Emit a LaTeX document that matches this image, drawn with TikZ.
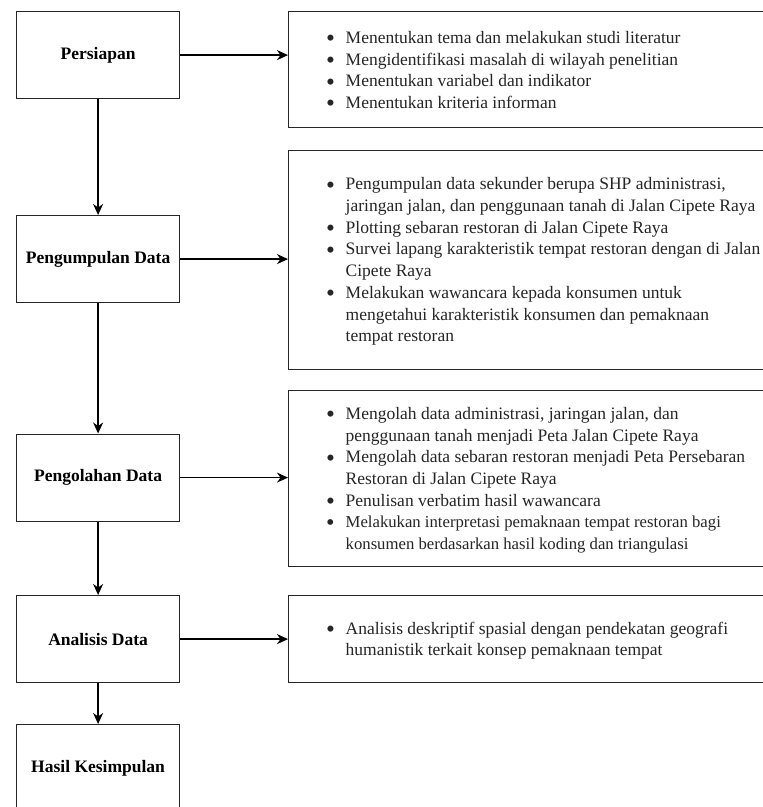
\documentclass[tikz,border=0pt]{standalone}
\usepackage{fontspec}
\usepackage{graphicx}
\setmainfont{Liberation Serif}
\usetikzlibrary{arrows.meta}
\newcommand{\bul}[1]{\par\noindent\hangindent=18.5pt\hangafter=1\makebox[18.5pt][l]{\hspace{-1pt}\raisebox{-3.2pt}{\scalebox{1.45}{\textbullet}}}#1}
\newcommand{\nl}{\hfil\break}
\newcommand{\listbox}[1]{\parbox{460pt}{\raggedright #1}}
\begin{document}
\begin{tikzpicture}[x=1pt,y=-1pt,
  stage/.style={draw=black!85, line width=1.2pt, minimum width=163pt, minimum height=87pt, inner sep=0pt, anchor=north west, font=\bfseries\fontsize{17.5}{21}\selectfont},
  panel/.style={draw=black!85, line width=1.2pt, inner sep=0pt, anchor=north west, minimum width=490pt},
  listtxt/.style={anchor=west, inner sep=0pt, font=\fontsize{17.5}{21.7}\selectfont, text=black!85},
  conn/.style={line width=1.3pt, -{Stealth[length=11pt,width=10pt,inset=3.5pt]}}]
\clip (0,0) rectangle (763,807);
\useasboundingbox (0,0) rectangle (763,807);
\fill[white] (0,0) rectangle (763,807);

\node[stage] (s1) at (16,11) {Persiapan};
\node[stage] (s2) at (16,215) {Pengumpulan Data};
\node[stage] (s3) at (16,433.5) {Pengolahan Data};
\node[stage] (s4) at (16,595) {Analisis Data};
\node[stage] (s5) at (16,724) {Hasil Kesimpulan};

\node[panel, minimum height=116pt] (p1) at (288,11) {};
\node[panel, minimum height=219pt] (p2) at (288,149.5) {};
\node[panel, minimum height=176pt] (p3) at (288,389.5) {};
\node[panel, minimum height=87pt] (p4) at (288,594.5) {};

\node[listtxt] (t1) at ([xshift=39pt,yshift=-2pt]p1.west) {\listbox{%
\bul{Menentukan tema dan melakukan studi literatur}
\bul{Mengidentifikasi masalah di wilayah penelitian}
\bul{Menentukan variabel dan indikator}
\bul{Menentukan kriteria informan}}};

\node[listtxt] (t2) at ([xshift=39pt,yshift=-2pt]p2.west) {\listbox{%
\bul{Pengumpulan data sekunder berupa SHP administrasi,\nl jaringan jalan, dan penggunaan tanah di Jalan Cipete Raya}
\bul{Plotting sebaran restoran di Jalan Cipete Raya}
\bul{Survei lapang karakteristik tempat restoran dengan di Jalan\nl Cipete Raya}
\bul{Melakukan wawancara kepada konsumen untuk\nl mengetahui karakteristik konsumen dan pemaknaan\nl tempat restoran}}};

\node[listtxt] (t3) at ([xshift=39pt,yshift=-2pt]p3.west) {\listbox{%
\bul{Mengolah data administrasi, jaringan jalan, dan\nl penggunaan tanah menjadi Peta Jalan Cipete Raya}
\bul{Mengolah data sebaran restoran menjadi Peta Persebaran\nl Restoran di Jalan Cipete Raya}
\bul{Penulisan verbatim hasil wawancara}
{\fontsize{16.7}{21.5}\selectfont\bul{Melakukan interpretasi pemaknaan tempat restoran bagi\nl konsumen berdasarkan hasil koding dan triangulasi}\par}}};

\node[listtxt] (t4) at ([xshift=39pt,yshift=-2pt]p4.west) {\listbox{%
\bul{Analisis deskriptif spasial dengan pendekatan geografi\nl humanistik terkait konsep pemaknaan tempat}}};

\draw[conn] (s1) -- (s2);
\draw[conn] (s2) -- (s3);
\draw[conn] (s3) -- (s4);
\draw[conn] (s4) -- (s5);

\draw[conn] (s1.east) -- (s1.east -| p1.west);
\draw[conn] (s2.east) -- (s2.east -| p2.west);
\draw[conn] (s3.east) -- (s3.east -| p3.west);
\draw[conn] (s4.east) -- (s4.east -| p4.west);
\end{tikzpicture}
\end{document}
